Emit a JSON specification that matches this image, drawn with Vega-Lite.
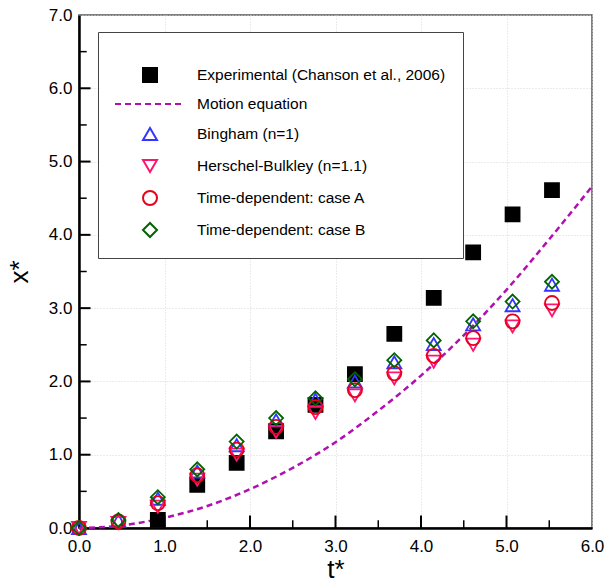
{
  "$schema": "https://vega.github.io/schema/vega-lite/v6.json",
  "width": 513,
  "height": 513,
  "autosize": {"type": "none"},
  "padding": {"left": 79, "top": 15, "right": 14, "bottom": 56},
  "config": {
    "view": {"stroke": "#555555", "strokeWidth": 1.5},
    "font": "Liberation Sans",
    "axis": {
      "grid": true,
      "gridColor": "#d6d6d6",
      "gridDash": [1, 2],
      "gridWidth": 1,
      "domainColor": "#000000",
      "domainWidth": 2.5,
      "ticks": false,
      "tickSize": 0,
      "labelFlush": false,
      "labelOverlap": false,
      "labelFont": "Liberation Sans",
      "labelFontSize": 17,
      "labelColor": "#000000",
      "titleFont": "Liberation Sans",
      "titleFontSize": 26,
      "titleFontWeight": "normal",
      "titleColor": "#000000"
    }
  },
  "layer": [
    {
      "data": {"values": [
        {"t": 0, "v": 0}, {"t": 0.5, "v": 0.035}, {"t": 1.0, "v": 0.14}, {"t": 1.5, "v": 0.3},
        {"t": 2.0, "v": 0.53}, {"t": 2.5, "v": 0.82}, {"t": 3.0, "v": 1.17}, {"t": 3.5, "v": 1.6},
        {"t": 4.0, "v": 2.08}, {"t": 4.5, "v": 2.63}, {"t": 5.0, "v": 3.25}, {"t": 5.5, "v": 3.94},
        {"t": 6.0, "v": 4.66}
      ]},
      "mark": {"type": "line", "interpolate": "monotone", "color": "#b010b0", "strokeWidth": 2.5, "strokeDash": [6, 4]},
      "encoding": {
        "x": {"field": "t", "type": "quantitative",
              "scale": {"domain": [0, 6], "nice": false, "zero": false},
              "axis": {"title": "t*", "values": [0, 1, 2, 3, 4, 5, 6], "format": ".1f", "labelPadding": 10, "titlePadding": 2}},
        "y": {"field": "v", "type": "quantitative",
              "scale": {"domain": [0, 7], "nice": false, "zero": false},
              "axis": {"title": "x*", "values": [0, 1, 2, 3, 4, 5, 6, 7], "format": ".1f", "labelPadding": 7, "titlePadding": 16}}
      }
    },
    {
      "data": {"values": [
        {"t": 0.5, "v": 0}, {"t": 1.5, "v": 0}, {"t": 2.5, "v": 0}, {"t": 3.5, "v": 0}, {"t": 4.5, "v": 0}, {"t": 5.5, "v": 0}
      ]},
      "mark": {"type": "rule", "color": "#000000", "strokeWidth": 1.5},
      "encoding": {
        "x": {"field": "t", "type": "quantitative"},
        "y": {"datum": 0, "type": "quantitative"},
        "y2": {"datum": 0.105}
      }
    },
    {
      "data": {"values": [
        {"t": 1, "v": 0}, {"t": 2, "v": 0}, {"t": 3, "v": 0}, {"t": 4, "v": 0}, {"t": 5, "v": 0}
      ]},
      "mark": {"type": "rule", "color": "#000000", "strokeWidth": 2},
      "encoding": {
        "x": {"field": "t", "type": "quantitative"},
        "y": {"datum": 0, "type": "quantitative"},
        "y2": {"datum": 0.17}
      }
    },
    {
      "data": {"values": [
        {"t": 0, "v": 0.5}, {"t": 0, "v": 1.5}, {"t": 0, "v": 2.5}, {"t": 0, "v": 3.5}, {"t": 0, "v": 4.5}, {"t": 0, "v": 5.5}, {"t": 0, "v": 6.5}
      ]},
      "mark": {"type": "rule", "color": "#000000", "strokeWidth": 1.5},
      "encoding": {
        "y": {"field": "v", "type": "quantitative"},
        "x": {"datum": 0, "type": "quantitative"},
        "x2": {"datum": 0.09}
      }
    },
    {
      "data": {"values": [
        {"t": 0, "v": 1}, {"t": 0, "v": 2}, {"t": 0, "v": 3}, {"t": 0, "v": 4}, {"t": 0, "v": 5}, {"t": 0, "v": 6}
      ]},
      "mark": {"type": "rule", "color": "#000000", "strokeWidth": 2},
      "encoding": {
        "y": {"field": "v", "type": "quantitative"},
        "x": {"datum": 0, "type": "quantitative"},
        "x2": {"datum": 0.135}
      }
    },
    {
      "data": {"values": [
        {"series": "Experimental (Chanson et al., 2006)", "t": 0.922, "v": 0.11},
        {"series": "Experimental (Chanson et al., 2006)", "t": 1.383, "v": 0.59},
        {"series": "Experimental (Chanson et al., 2006)", "t": 1.844, "v": 0.89},
        {"series": "Experimental (Chanson et al., 2006)", "t": 2.305, "v": 1.32},
        {"series": "Experimental (Chanson et al., 2006)", "t": 2.766, "v": 1.68},
        {"series": "Experimental (Chanson et al., 2006)", "t": 3.227, "v": 2.1},
        {"series": "Experimental (Chanson et al., 2006)", "t": 3.688, "v": 2.65},
        {"series": "Experimental (Chanson et al., 2006)", "t": 4.149, "v": 3.14},
        {"series": "Experimental (Chanson et al., 2006)", "t": 4.61, "v": 3.76},
        {"series": "Experimental (Chanson et al., 2006)", "t": 5.071, "v": 4.28},
        {"series": "Experimental (Chanson et al., 2006)", "t": 5.532, "v": 4.61},

        {"series": "Bingham (n=1)", "t": 0, "v": 0},
        {"series": "Bingham (n=1)", "t": 0.461, "v": 0.1},
        {"series": "Bingham (n=1)", "t": 0.922, "v": 0.4},
        {"series": "Bingham (n=1)", "t": 1.383, "v": 0.77},
        {"series": "Bingham (n=1)", "t": 1.844, "v": 1.13},
        {"series": "Bingham (n=1)", "t": 2.305, "v": 1.47},
        {"series": "Bingham (n=1)", "t": 2.766, "v": 1.75},
        {"series": "Bingham (n=1)", "t": 3.227, "v": 2.0},
        {"series": "Bingham (n=1)", "t": 3.688, "v": 2.26},
        {"series": "Bingham (n=1)", "t": 4.149, "v": 2.51},
        {"series": "Bingham (n=1)", "t": 4.61, "v": 2.78},
        {"series": "Bingham (n=1)", "t": 5.071, "v": 3.04},
        {"series": "Bingham (n=1)", "t": 5.532, "v": 3.32},

        {"series": "Herschel-Bulkley (n=1.1)", "t": 0, "v": 0},
        {"series": "Herschel-Bulkley (n=1.1)", "t": 0.461, "v": 0.07},
        {"series": "Herschel-Bulkley (n=1.1)", "t": 0.922, "v": 0.29},
        {"series": "Herschel-Bulkley (n=1.1)", "t": 1.383, "v": 0.66},
        {"series": "Herschel-Bulkley (n=1.1)", "t": 1.844, "v": 1.0},
        {"series": "Herschel-Bulkley (n=1.1)", "t": 2.305, "v": 1.31},
        {"series": "Herschel-Bulkley (n=1.1)", "t": 2.766, "v": 1.57},
        {"series": "Herschel-Bulkley (n=1.1)", "t": 3.227, "v": 1.81},
        {"series": "Herschel-Bulkley (n=1.1)", "t": 3.688, "v": 2.04},
        {"series": "Herschel-Bulkley (n=1.1)", "t": 4.149, "v": 2.27},
        {"series": "Herschel-Bulkley (n=1.1)", "t": 4.61, "v": 2.5},
        {"series": "Herschel-Bulkley (n=1.1)", "t": 5.071, "v": 2.75},
        {"series": "Herschel-Bulkley (n=1.1)", "t": 5.532, "v": 2.97},

        {"series": "Time-dependent: case A", "t": 0, "v": 0},
        {"series": "Time-dependent: case A", "t": 0.461, "v": 0.09},
        {"series": "Time-dependent: case A", "t": 0.922, "v": 0.34},
        {"series": "Time-dependent: case A", "t": 1.383, "v": 0.72},
        {"series": "Time-dependent: case A", "t": 1.844, "v": 1.07},
        {"series": "Time-dependent: case A", "t": 2.305, "v": 1.38},
        {"series": "Time-dependent: case A", "t": 2.766, "v": 1.65},
        {"series": "Time-dependent: case A", "t": 3.227, "v": 1.88},
        {"series": "Time-dependent: case A", "t": 3.688, "v": 2.11},
        {"series": "Time-dependent: case A", "t": 4.149, "v": 2.35},
        {"series": "Time-dependent: case A", "t": 4.61, "v": 2.59},
        {"series": "Time-dependent: case A", "t": 5.071, "v": 2.82},
        {"series": "Time-dependent: case A", "t": 5.532, "v": 3.07},

        {"series": "Time-dependent: case B", "t": 0, "v": 0},
        {"series": "Time-dependent: case B", "t": 0.461, "v": 0.11},
        {"series": "Time-dependent: case B", "t": 0.922, "v": 0.42},
        {"series": "Time-dependent: case B", "t": 1.383, "v": 0.8},
        {"series": "Time-dependent: case B", "t": 1.844, "v": 1.18},
        {"series": "Time-dependent: case B", "t": 2.305, "v": 1.5},
        {"series": "Time-dependent: case B", "t": 2.766, "v": 1.77},
        {"series": "Time-dependent: case B", "t": 3.227, "v": 2.03},
        {"series": "Time-dependent: case B", "t": 3.688, "v": 2.29},
        {"series": "Time-dependent: case B", "t": 4.149, "v": 2.56},
        {"series": "Time-dependent: case B", "t": 4.61, "v": 2.82},
        {"series": "Time-dependent: case B", "t": 5.071, "v": 3.09},
        {"series": "Time-dependent: case B", "t": 5.532, "v": 3.36}
      ]},
      "mark": {"type": "point", "strokeWidth": 1.8, "opacity": 1},
      "encoding": {
        "x": {"field": "t", "type": "quantitative"},
        "y": {"field": "v", "type": "quantitative"},
        "shape": {
          "field": "series", "type": "nominal",
          "scale": {
            "domain": ["Experimental (Chanson et al., 2006)", "Motion equation", "Bingham (n=1)", "Herschel-Bulkley (n=1.1)", "Time-dependent: case A", "Time-dependent: case B"],
            "range": ["square", "M-5,0h0.86M-3.57,0h0.86M-2.14,0h0.86M-0.71,0h0.86M0.71,0h0.86M2.14,0h0.86M3.57,0h0.86", "triangle-up", "triangle-down", "circle", "diamond"]
          },
          "legend": {
            "title": " ",
            "orient": "none",
            "legendX": 19,
            "legendY": 17,
            "padding": 17,
            "strokeColor": "#444444",
            "fillColor": "#ffffff",
            "titleFontSize": 10,
            "titlePadding": 8,
            "labelFont": "Liberation Sans",
            "labelFontSize": 15.5,
            "labelColor": "#000000",
            "labelLimit": 400,
            "symbolOffset": 27,
            "labelOffset": 39,
            "rowPadding": 10,
            "symbolStrokeWidth": 2,
            "symbolOpacity": 1,
            "encode": {"legend": {"update": {"strokeWidth": {"value": 1.5}}}}
          }
        },
        "stroke": {
          "field": "series", "type": "nominal",
          "scale": {
            "domain": ["Experimental (Chanson et al., 2006)", "Motion equation", "Bingham (n=1)", "Herschel-Bulkley (n=1.1)", "Time-dependent: case A", "Time-dependent: case B"],
            "range": ["#000000", "#b010b0", "#3535ff", "#ff1470", "#e8001c", "#006400"]
          }
        },
        "fill": {
          "field": "series", "type": "nominal",
          "scale": {
            "domain": ["Experimental (Chanson et al., 2006)", "Motion equation", "Bingham (n=1)", "Herschel-Bulkley (n=1.1)", "Time-dependent: case A", "Time-dependent: case B"],
            "range": ["#000000", "transparent", "transparent", "transparent", "transparent", "transparent"]
          }
        },
        "size": {
          "field": "series", "type": "nominal",
          "scale": {
            "domain": ["Experimental (Chanson et al., 2006)", "Motion equation", "Bingham (n=1)", "Herschel-Bulkley (n=1.1)", "Time-dependent: case A", "Time-dependent: case B"],
            "range": [196, 196, 256, 256, 196, 225]
          }
        }
      }
    }
  ]
}
